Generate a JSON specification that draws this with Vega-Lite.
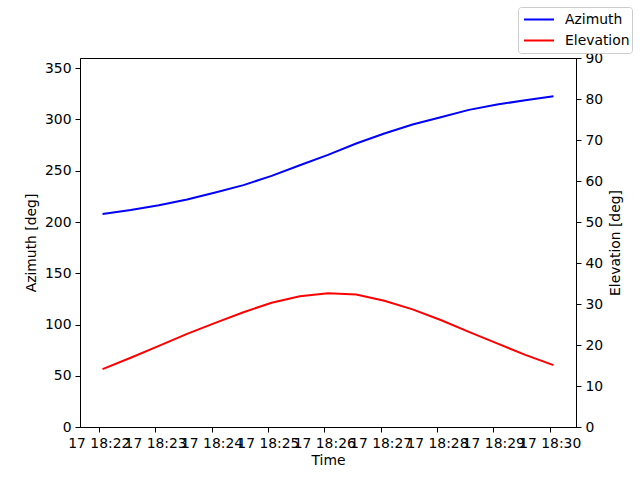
{
  "$schema": "https://vega.github.io/schema/vega-lite/v6.json",
  "width": 496,
  "height": 369,
  "autosize": "none",
  "padding": {"left": 80, "top": 58, "right": 64, "bottom": 53},
  "background": "white",
  "config": {
    "font": "DejaVu Sans",
    "view": {"stroke": "black", "strokeWidth": 1},
    "axis": {
      "grid": false,
      "domainColor": "black",
      "tickColor": "black",
      "labelColor": "black",
      "titleColor": "black",
      "labelFontSize": 13.9,
      "titleFontSize": 13.9,
      "titleFontWeight": "normal",
      "tickSize": 5,
      "labelPadding": 4
    }
  },
  "data": {
    "values": [
      {"time": "2024-01-17T18:22:04", "series": "Azimuth", "value": 207.7},
      {"time": "2024-01-17T18:22:34", "series": "Azimuth", "value": 211.6},
      {"time": "2024-01-17T18:23:04", "series": "Azimuth", "value": 216.4},
      {"time": "2024-01-17T18:23:34", "series": "Azimuth", "value": 222.0},
      {"time": "2024-01-17T18:24:04", "series": "Azimuth", "value": 228.8},
      {"time": "2024-01-17T18:24:34", "series": "Azimuth", "value": 236.0},
      {"time": "2024-01-17T18:25:04", "series": "Azimuth", "value": 245.0},
      {"time": "2024-01-17T18:25:34", "series": "Azimuth", "value": 255.4},
      {"time": "2024-01-17T18:26:04", "series": "Azimuth", "value": 265.5},
      {"time": "2024-01-17T18:26:34", "series": "Azimuth", "value": 276.6},
      {"time": "2024-01-17T18:27:04", "series": "Azimuth", "value": 286.3},
      {"time": "2024-01-17T18:27:34", "series": "Azimuth", "value": 295.1},
      {"time": "2024-01-17T18:28:04", "series": "Azimuth", "value": 302.2},
      {"time": "2024-01-17T18:28:34", "series": "Azimuth", "value": 309.4},
      {"time": "2024-01-17T18:29:04", "series": "Azimuth", "value": 314.6},
      {"time": "2024-01-17T18:29:34", "series": "Azimuth", "value": 318.8},
      {"time": "2024-01-17T18:30:04", "series": "Azimuth", "value": 322.7},
      {"time": "2024-01-17T18:22:04", "series": "Elevation", "value": 14.1},
      {"time": "2024-01-17T18:22:34", "series": "Elevation", "value": 16.9},
      {"time": "2024-01-17T18:23:04", "series": "Elevation", "value": 19.8},
      {"time": "2024-01-17T18:23:34", "series": "Elevation", "value": 22.7},
      {"time": "2024-01-17T18:24:04", "series": "Elevation", "value": 25.4},
      {"time": "2024-01-17T18:24:34", "series": "Elevation", "value": 28.0},
      {"time": "2024-01-17T18:25:04", "series": "Elevation", "value": 30.3},
      {"time": "2024-01-17T18:25:34", "series": "Elevation", "value": 31.9},
      {"time": "2024-01-17T18:26:04", "series": "Elevation", "value": 32.6},
      {"time": "2024-01-17T18:26:34", "series": "Elevation", "value": 32.3},
      {"time": "2024-01-17T18:27:04", "series": "Elevation", "value": 30.8},
      {"time": "2024-01-17T18:27:34", "series": "Elevation", "value": 28.7},
      {"time": "2024-01-17T18:28:04", "series": "Elevation", "value": 26.1},
      {"time": "2024-01-17T18:28:34", "series": "Elevation", "value": 23.2},
      {"time": "2024-01-17T18:29:04", "series": "Elevation", "value": 20.4},
      {"time": "2024-01-17T18:29:34", "series": "Elevation", "value": 17.6},
      {"time": "2024-01-17T18:30:04", "series": "Elevation", "value": 15.1}
    ]
  },
  "encoding": {
    "x": {
      "field": "time",
      "type": "temporal",
      "title": "Time",
      "scale": {
        "domain": [
          {"year": 2024, "month": 1, "date": 17, "hours": 18, "minutes": 21, "seconds": 40},
          {"year": 2024, "month": 1, "date": 17, "hours": 18, "minutes": 30, "seconds": 28}
        ]
      },
      "axis": {
        "format": "%d %H:%M",
        "values": [
          {"year": 2024, "month": 1, "date": 17, "hours": 18, "minutes": 22},
          {"year": 2024, "month": 1, "date": 17, "hours": 18, "minutes": 23},
          {"year": 2024, "month": 1, "date": 17, "hours": 18, "minutes": 24},
          {"year": 2024, "month": 1, "date": 17, "hours": 18, "minutes": 25},
          {"year": 2024, "month": 1, "date": 17, "hours": 18, "minutes": 26},
          {"year": 2024, "month": 1, "date": 17, "hours": 18, "minutes": 27},
          {"year": 2024, "month": 1, "date": 17, "hours": 18, "minutes": 28},
          {"year": 2024, "month": 1, "date": 17, "hours": 18, "minutes": 29},
          {"year": 2024, "month": 1, "date": 17, "hours": 18, "minutes": 30}
        ],
        "labelOverlap": false,
        "labelFlush": false,
        "titlePadding": 4
      }
    },
    "color": {
      "field": "series",
      "type": "nominal",
      "scale": {"domain": ["Azimuth", "Elevation"], "range": ["#0000ff", "#ff0000"]},
      "legend": {
        "title": null,
        "orient": "none",
        "legendX": 438,
        "legendY": -51,
        "symbolType": "stroke",
        "symbolSize": 900,
        "symbolStrokeWidth": 2,
        "symbolOffset": 3,
        "clipHeight": 21,
        "labelFontSize": 13.9,
        "labelColor": "black",
        "labelOffset": 10,
        "padding": 2,
        "rowPadding": 0,
        "strokeColor": "#cccccc",
        "fillColor": "white",
        "cornerRadius": 3
      }
    }
  },
  "layer": [
    {
      "transform": [{"filter": "datum.series === 'Azimuth'"}],
      "mark": {"type": "line", "strokeWidth": 2},
      "encoding": {
        "y": {
          "field": "value",
          "type": "quantitative",
          "title": "Azimuth [deg]",
          "scale": {"domain": [0, 360], "nice": false},
          "axis": {"orient": "left", "values": [0, 50, 100, 150, 200, 250, 300, 350], "titlePadding": 6}
        }
      }
    },
    {
      "transform": [{"filter": "datum.series === 'Elevation'"}],
      "mark": {"type": "line", "strokeWidth": 2},
      "encoding": {
        "y": {
          "field": "value",
          "type": "quantitative",
          "title": "Elevation [deg]",
          "scale": {"domain": [0, 90], "nice": false},
          "axis": {"orient": "right", "values": [0, 10, 20, 30, 40, 50, 60, 70, 80, 90], "titleAngle": 270, "titlePadding": 20}
        }
      }
    }
  ],
  "resolve": {"scale": {"y": "independent"}}
}
